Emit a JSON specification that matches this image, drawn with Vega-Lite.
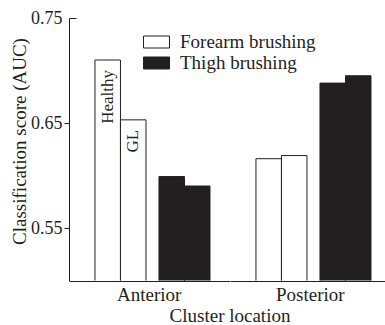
{
  "$schema": "https://vega.github.io/schema/vega-lite/v6.json",
  "padding": {"left": 10, "top": 9, "right": 0, "bottom": 0},
  "config": {"view": {"stroke": null}, "font": "Liberation Serif"},
  "data": {"values": [
    {"location": "Anterior", "brushing": "Forearm brushing", "condition": "Healthy", "auc": 0.710},
    {"location": "Anterior", "brushing": "Forearm brushing", "condition": "GL", "auc": 0.653},
    {"location": "Anterior", "brushing": "Thigh brushing", "condition": "Healthy", "auc": 0.599},
    {"location": "Anterior", "brushing": "Thigh brushing", "condition": "GL", "auc": 0.590},
    {"location": "Posterior", "brushing": "Forearm brushing", "condition": "Healthy", "auc": 0.616},
    {"location": "Posterior", "brushing": "Forearm brushing", "condition": "GL", "auc": 0.619},
    {"location": "Posterior", "brushing": "Thigh brushing", "condition": "Healthy", "auc": 0.688},
    {"location": "Posterior", "brushing": "Thigh brushing", "condition": "GL", "auc": 0.695}
  ]},
  "facet": {"column": {"field": "location", "type": "nominal", "sort": ["Anterior", "Posterior"],
    "header": {"labelOrient": "bottom", "titleOrient": "bottom", "title": "Cluster location",
      "labelFont": "Liberation Serif", "labelFontSize": 19, "labelColor": "#231f20", "labelPadding": 5,
      "titleFont": "Liberation Serif", "titleFontSize": 19, "titleFontWeight": "normal", "titleColor": "#231f20", "titlePadding": -8}}},
  "spacing": 0,
  "spec": {
    "width": 160.5,
    "height": 262.5,
    "layer": [
      {
        "mark": {"type": "bar", "stroke": "#231f20", "strokeWidth": 1, "clip": true},
        "encoding": {
          "x": {"field": "brushing", "type": "nominal", "sort": ["Forearm brushing", "Thigh brushing"],
            "scale": {"paddingInner": 0.203, "paddingOuter": 0.355, "align": 0.571},
            "axis": {"labels": false, "ticks": false, "title": null, "domainColor": "#231f20", "domainWidth": 1}},
          "xOffset": {"field": "condition", "type": "nominal", "sort": ["Healthy", "GL"], "scale": {"paddingInner": 0, "paddingOuter": 0}},
          "y": {"field": "auc", "type": "quantitative",
            "scale": {"domain": [0.5, 0.75], "nice": false, "zero": false},
            "axis": {"values": [0.55, 0.65, 0.75], "format": ".2f", "title": "Classification score (AUC)", "grid": false,
              "domainColor": "#231f20", "tickColor": "#231f20",
              "tickSize": {"condition": {"test": "datum.value >= 0.749", "value": -7}, "value": 5},
              "labelPadding": {"condition": {"test": "datum.value >= 0.749", "value": 14}, "value": 2},
              "labelFont": "Liberation Serif", "labelFontSize": 18, "labelColor": "#231f20",
              "titleFont": "Liberation Serif", "titleFontSize": 19, "titleFontWeight": "normal", "titleColor": "#231f20", "titlePadding": 1, "titleY": 123}},
          "fill": {"field": "brushing", "type": "nominal",
            "scale": {"domain": ["Forearm brushing", "Thigh brushing"], "range": ["#ffffff", "#231f20"]},
            "legend": {"orient": "none", "legendX": 77, "legendY": 13.5, "title": null,
              "symbolType": "M-1.3,-0.6H1.3V0.6H-1.3Z", "symbolSize": 400, "symbolStrokeColor": "#231f20", "symbolStrokeWidth": 1,
              "labelFont": "Liberation Serif", "labelFontSize": 19, "labelColor": "#231f20", "labelOffset": 13, "rowPadding": 0, "padding": 0}}
        }
      },
      {
        "transform": [{"filter": "datum.location == 'Anterior' && datum.brushing == 'Forearm brushing'"}],
        "mark": {"type": "text", "angle": 270, "align": "right", "baseline": "middle", "dx": -10,
          "font": "Liberation Serif", "fontSize": 17, "color": "#231f20"},
        "encoding": {
          "x": {"field": "brushing", "type": "nominal", "sort": ["Forearm brushing", "Thigh brushing"]},
          "xOffset": {"field": "condition", "type": "nominal", "sort": ["Healthy", "GL"]},
          "y": {"field": "auc", "type": "quantitative"},
          "text": {"field": "condition"}
        }
      }
    ]
  }
}
